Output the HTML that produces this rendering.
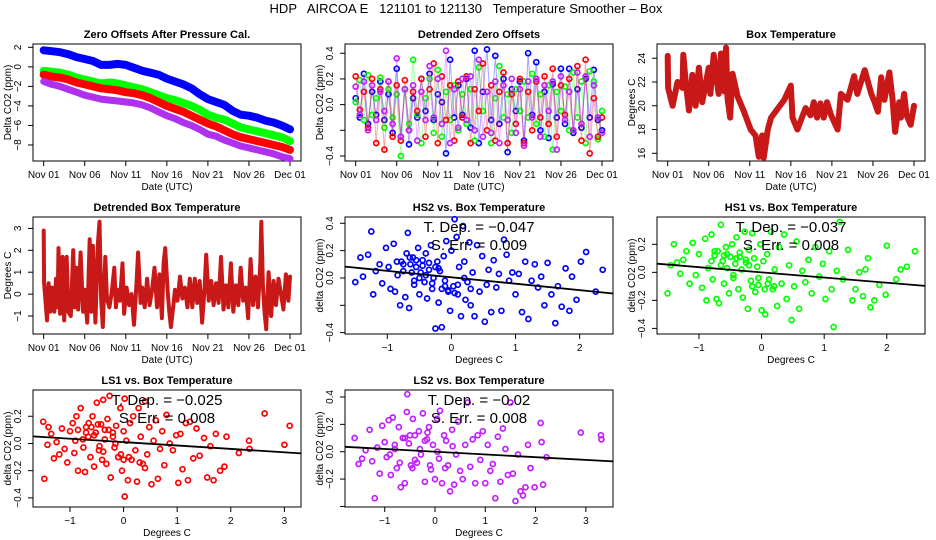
<!DOCTYPE html>
<html><head><meta charset="utf-8"><style>
html,body{margin:0;padding:0;background:#fff;}
svg{display:block;font-family:"Liberation Sans",sans-serif;}
</style></head><body>
<svg id="chart" xmlns="http://www.w3.org/2000/svg" width="936" height="540" viewBox="0 0 936 540">
<rect width="936" height="540" fill="#fff"/>
<text x="466" y="13" font-size="13" text-anchor="middle" xml:space="preserve">HDP   AIRCOA E   121101 to 121130   Temperature Smoother – Box</text>
</svg>
<script>
// ---------- data ----------
const dayTicks=[0,5,10,15,20,25,30];
const dayLabels=["Nov 01","Nov 06","Nov 11","Nov 16","Nov 21","Nov 26","Dec 01"];
const zeroDays=[0,1,2,3,4,5,6,7,8,9,10,11,12,13,14,15,16,17,18,19,20,21,22,23,24,25,26,27,28,29,30];
const zeroHS2=[1.7,1.6,1.5,1.3,1.0,0.8,0.6,0.2,0.2,0.3,0.2,-0.1,-0.4,-0.6,-0.8,-1.2,-1.5,-1.8,-2.2,-2.8,-3.3,-3.6,-3.9,-4.5,-4.9,-5.0,-5.2,-5.5,-5.7,-6.0,-6.4];
const zeroHS1=[-0.4,-0.5,-0.6,-0.8,-1.1,-1.3,-1.5,-1.7,-1.6,-1.7,-1.9,-2.1,-2.3,-2.6,-2.9,-3.2,-3.4,-3.7,-4.0,-4.4,-4.9,-5.2,-5.4,-5.8,-6.2,-6.4,-6.6,-6.8,-7.0,-7.2,-7.6];
const zeroLS1=[-0.8,-1.0,-1.1,-1.3,-1.6,-1.8,-2.0,-2.2,-2.3,-2.4,-2.6,-2.7,-2.9,-3.2,-3.6,-4.0,-4.3,-4.6,-5.0,-5.4,-5.8,-6.1,-6.5,-6.9,-7.2,-7.4,-7.6,-7.8,-8.0,-8.2,-8.5];
const zeroLS2=[-1.5,-1.8,-2.0,-2.3,-2.6,-2.9,-3.1,-3.3,-3.4,-3.5,-3.6,-3.7,-3.9,-4.2,-4.6,-5.0,-5.3,-5.7,-6.0,-6.4,-6.9,-7.1,-7.5,-7.8,-8.1,-8.3,-8.5,-8.7,-8.9,-9.2,-9.4];

const detDays=[0,0.5,1,1.5,2,2.5,3,3.5,4,4.5,5,5.5,6,6.5,7,7.5,8,8.5,9,9.5,10,10.5,11,11.5,12,12.5,13,13.5,14,14.5,15,15.5,16,16.5,17,17.5,18,18.5,19,19.5,20,20.5,21,21.5,22,22.5,23,23.5,24,24.5,25,25.5,26,26.5,27,27.5,28,28.5,29,29.5,30];
const detHS2=[0.05,-0.10,0.24,-0.15,0.10,-0.08,0.18,-0.12,0.08,-0.22,
0.28,-0.25,0.12,-0.31,0.05,-0.10,0.20,-0.05,0.24,-0.12,
0.08,0.02,-0.38,0.35,-0.10,0.15,-0.08,0.20,-0.18,0.42,
-0.30,0.10,0.43,-0.12,0.38,-0.15,0.20,-0.37,0.12,-0.05,
0.18,-0.28,0.40,-0.08,0.33,-0.20,0.10,-0.26,0.16,-0.10,
0.28,-0.15,0.28,-0.22,0.12,-0.18,0.20,-0.10,0.27,-0.12,-0.20];
const detHS1=[0.02,0.19,-0.12,0.23,-0.08,0.05,0.21,-0.18,0.12,-0.10,
0.08,-0.40,0.12,-0.15,0.35,-0.08,-0.30,0.05,0.20,-0.22,
0.27,-0.25,0.10,-0.12,0.15,-0.20,0.08,-0.15,0.12,-0.28,
0.29,-0.05,0.10,-0.30,0.05,0.30,-0.10,0.08,-0.22,0.12,
-0.05,0.18,-0.10,0.24,-0.15,0.08,-0.25,0.15,-0.35,0.10,
-0.05,0.14,-0.20,0.25,-0.10,0.18,-0.30,0.26,0.18,-0.27,-0.05];
const detLS1=[0.22,-0.04,0.10,-0.18,0.20,-0.30,0.12,-0.35,0.18,-0.25,
0.15,-0.28,0.19,-0.20,0.10,-0.05,0.20,-0.25,0.12,0.32,
-0.30,0.22,-0.12,0.15,-0.28,0.18,-0.10,0.22,-0.30,0.12,
-0.05,0.32,-0.20,0.15,-0.28,0.10,0.25,-0.30,0.08,-0.15,
0.20,-0.30,0.10,-0.20,0.18,-0.10,0.22,-0.15,0.28,-0.25,
0.15,-0.08,0.20,-0.20,0.30,-0.28,0.35,-0.38,0.05,-0.25,-0.10];
const detLS2=[0.14,-0.08,0.18,-0.20,0.15,-0.12,0.10,-0.05,0.18,-0.15,
0.36,-0.25,0.12,-0.20,0.15,-0.28,0.10,-0.12,0.30,-0.10,
0.20,-0.15,0.42,-0.30,0.12,-0.18,0.20,-0.12,0.22,-0.20,
0.35,-0.25,0.10,-0.22,0.18,-0.30,0.15,-0.12,0.20,-0.22,
0.12,-0.32,0.18,-0.10,0.20,-0.25,0.15,-0.05,0.18,-0.35,
0.22,-0.12,0.10,-0.20,0.25,-0.15,0.22,-0.25,0.15,-0.10,-0.22];

const boxDays=[0,0.05,0.6,1.2,1.8,1.9,2.2,2.6,3.0,3.4,3.8,4.2,5.0,5.2,5.6,6.2,6.5,6.9,7.1,7.3,7.6,7.9,8.5,9.3,10.1,10.7,11.1,11.5,11.7,12.2,12.6,14.2,15.0,15.2,15.8,16.8,17.4,17.8,18.2,18.6,19.0,19.4,19.9,20.7,21.1,21.9,22.7,23.1,24.0,24.8,25.2,25.6,26.0,26.4,27.0,27.4,27.7,28.2,28.4,28.8,29.1,29.6,30.0];
const boxTemp=[24.2,21.5,20.0,22.0,21.5,24.3,22.0,19.6,22.6,20.0,23.2,20.3,23.2,21.0,24.3,21.0,24.4,21.2,24.9,20.6,19.0,22.7,20.8,19.5,18.0,17.5,15.7,17.5,15.6,18.0,19.0,20.5,21.7,19.0,18.0,19.8,19.2,20.3,19.0,20.2,19.0,20.3,19.2,18.0,21.0,20.5,22.5,21.0,23.0,21.0,20.3,19.5,22.4,20.5,22.8,20.5,17.8,20.3,19.0,21.0,19.2,18.4,20.0];

const dbDays=[0,0.05,0.2,0.4,0.6,0.8,1.0,1.3,1.5,1.7,1.8,2.0,2.3,2.5,2.8,3.0,3.3,3.6,3.8,4.0,4.2,4.5,4.8,5.0,5.3,5.6,5.8,6.0,6.3,6.6,6.8,7.0,7.2,7.5,7.7,8.0,8.3,8.6,8.8,9.0,9.3,9.6,9.8,10.1,10.4,10.7,11.0,11.3,11.5,11.8,12.0,12.3,12.6,12.9,13.2,13.5,13.8,14.1,14.4,14.6,14.8,15.1,15.3,15.5,15.8,16.0,16.3,16.6,16.9,17.2,17.5,17.8,18.1,18.4,18.7,19.0,19.3,19.6,19.8,20.1,20.4,20.7,21.0,21.3,21.6,21.9,22.2,22.5,22.8,23.1,23.4,23.7,24.0,24.3,24.6,24.9,25.2,25.5,25.8,26.1,26.4,26.5,26.7,26.9,27.1,27.4,27.7,28.0,28.3,28.6,28.9,29.2,29.5,29.8,30.0];
const dbTemp=[2.9,0.5,-0.2,-1.2,0.5,-0.8,0.3,-0.8,0.7,-0.6,2.1,-0.9,1.7,-1.2,1.7,-0.8,-1.0,2.0,-0.6,1.2,-0.7,1.9,-0.8,0.2,-1.3,2.5,-0.8,2.2,-1.3,2.3,3.3,-0.2,-1.5,1.7,-0.2,-0.6,0.1,1.2,-0.6,0.2,-0.3,1.4,-0.9,0.3,-0.5,0.0,-1.4,0.5,1.9,-0.4,0.3,-0.6,0.7,-0.5,0.2,1.2,-0.6,0.9,-1.1,1.4,2.1,0.1,-0.8,-1.5,-0.5,0.2,-0.3,0.8,-0.2,0.3,-0.6,0.7,-0.6,0.7,-0.4,0.6,-1.3,0.3,1.8,-0.3,0.6,-0.5,0.5,-0.4,1.7,-0.7,0.4,-0.6,1.4,-0.8,0.4,-0.5,1.2,-0.3,0.3,-1.1,1.6,-0.5,0.8,-0.6,1.5,3.3,0.4,-0.8,-1.6,1.0,-1.0,0.6,-0.5,0.7,0.0,-0.7,0.9,-0.3,0.8];

const hs2X=[-1.50,-1.42,-1.38,-1.30,-1.25,-1.22,-1.18,-1.12,-1.08,-1.02,-0.98,-0.95,-0.90,-0.88,-0.84,-0.80,-0.78,-0.75,-0.72,-0.70,-0.68,-0.66,-0.64,-0.60,-0.58,-0.55,-0.52,-0.50,-0.48,-0.45,-0.42,-0.40,-0.38,-0.35,-0.32,-0.30,-0.28,-0.25,-0.22,-0.20,-0.18,-0.15,-0.12,-0.10,-0.08,-0.05,-0.02,0.00,0.03,0.05,0.08,0.10,0.12,0.15,0.18,0.20,0.22,0.25,0.28,0.30,0.33,0.36,0.40,0.44,0.48,0.52,0.55,0.58,0.62,0.66,0.70,0.74,0.78,0.82,0.86,0.90,0.95,1.00,1.05,1.10,1.15,1.20,1.25,1.30,1.35,1.40,1.45,1.50,1.56,1.62,1.66,1.72,1.78,1.84,1.88,1.95,2.02,2.10,2.25,2.36,-0.85,-0.75,-0.65,-0.55,-0.45,-0.35,-0.25,-0.15,-0.05,0.05,-0.62,-0.58,-0.50,-0.40,-0.30,-0.20,-0.10,0.10,0.20,0.30];
const hs2Y=[-0.03,0.15,0.01,0.17,0.34,-0.12,0.05,0.10,-0.04,0.22,0.08,-0.08,0.25,-0.10,0.02,-0.20,0.12,0.05,-0.14,0.18,0.33,-0.22,0.10,0.15,-0.05,0.08,0.22,-0.12,0.04,0.13,-0.03,0.18,-0.15,0.06,0.24,-0.08,0.00,-0.37,0.12,-0.18,0.05,-0.36,0.16,-0.02,0.27,-0.10,-0.24,0.20,-0.06,0.43,0.30,-0.12,0.08,-0.28,0.38,0.12,-0.16,-0.03,0.26,-0.20,0.04,-0.28,0.24,-0.10,0.16,-0.32,-0.05,0.06,-0.25,0.13,-0.07,0.03,-0.24,0.28,0.17,-0.02,0.04,-0.12,0.03,-0.25,0.12,-0.30,-0.02,0.10,-0.07,0.01,-0.20,0.11,-0.12,-0.33,-0.06,-0.21,0.07,-0.24,0.01,-0.16,0.12,0.19,-0.10,0.06,0.12,0.10,0.15,0.13,0.09,0.11,0.08,-0.08,-0.09,-0.11,0.04,-0.02,0.00,0.02,-0.04,0.07,-0.06,-0.05,0.00,-0.08];
const hs1X=[-1.50,-1.45,-1.40,-1.35,-1.30,-1.25,-1.20,-1.15,-1.10,-1.05,-1.00,-0.95,-0.90,-0.88,-0.85,-0.80,-0.78,-0.75,-0.72,-0.70,-0.68,-0.65,-0.62,-0.60,-0.57,-0.55,-0.52,-0.50,-0.47,-0.45,-0.42,-0.40,-0.37,-0.35,-0.32,-0.30,-0.27,-0.25,-0.22,-0.20,-0.17,-0.15,-0.12,-0.10,-0.07,-0.05,-0.02,0.00,0.03,0.06,0.09,0.12,0.15,0.18,0.21,0.25,0.28,0.32,0.36,0.40,0.44,0.48,0.52,0.56,0.60,0.65,0.70,0.75,0.80,0.86,0.92,0.98,1.02,1.08,1.12,1.15,1.20,1.25,1.30,1.38,1.45,1.50,1.56,1.62,1.66,1.70,1.74,1.80,1.88,1.98,2.00,2.15,2.22,2.32,2.45,-0.80,-0.60,-0.40,-0.20,0.10,-0.75,-0.65,-0.55,-0.45,-0.35,-0.25,-0.15,-0.05,0.05,0.20];
const hs1Y=[-0.15,0.05,0.20,0.07,-0.01,0.09,0.15,-0.08,0.21,-0.02,0.13,-0.11,0.24,-0.20,0.03,0.27,-0.05,0.12,-0.19,0.15,-0.22,0.34,0.08,-0.08,0.18,0.03,-0.15,0.11,0.20,-0.04,0.06,0.25,-0.12,0.14,0.02,-0.18,0.29,0.09,-0.26,0.16,-0.06,0.28,0.10,-0.14,0.04,-0.09,0.20,-0.27,0.08,-0.30,0.13,-0.05,0.29,-0.12,0.02,-0.24,0.18,-0.08,0.27,-0.19,0.05,-0.34,-0.10,0.22,-0.26,0.01,-0.07,0.09,-0.15,0.18,-0.03,0.06,-0.19,0.15,-0.12,-0.39,0.01,0.36,-0.05,0.16,-0.20,-0.12,0.00,-0.17,0.02,0.10,-0.25,-0.20,-0.09,-0.16,0.19,-0.05,0.02,0.04,0.15,0.08,0.12,0.10,0.05,-0.08,0.15,0.05,0.13,-0.02,0.11,0.07,-0.10,-0.04,-0.12,-0.10];
const ls1X=[-1.50,-1.48,-1.42,-1.40,-1.35,-1.30,-1.25,-1.20,-1.15,-1.10,-1.05,-1.00,-0.95,-0.92,-0.88,-0.85,-0.80,-0.76,-0.72,-0.70,-0.66,-0.62,-0.58,-0.55,-0.52,-0.50,-0.46,-0.42,-0.40,-0.38,-0.35,-0.32,-0.30,-0.26,-0.24,-0.20,-0.17,-0.14,-0.10,-0.06,-0.03,0.00,0.02,0.02,0.05,0.08,0.12,0.15,0.18,0.22,0.25,0.28,0.32,0.36,0.40,0.44,0.48,0.52,0.56,0.60,0.64,0.68,0.72,0.76,0.80,0.86,0.92,0.98,1.02,1.06,1.10,1.16,1.20,1.24,1.30,1.36,1.42,1.50,1.56,1.62,1.68,1.72,1.80,1.88,1.92,2.15,2.34,2.35,2.63,3.00,3.10,-0.90,-0.70,-0.60,-0.45,-0.35,-0.20,-0.05,0.10,0.30,-0.85,-0.75,-0.65,-0.55,-0.48,-0.38,-0.28,-0.15,0.00,0.40];
const ls1Y=[0.16,-0.26,-0.01,0.12,0.07,-0.11,0.01,-0.08,0.11,-0.04,-0.14,0.09,0.15,-0.07,0.20,-0.20,0.26,0.03,-0.21,0.12,0.05,-0.10,0.20,-0.17,0.08,0.30,-0.05,0.14,-0.12,0.32,0.03,-0.15,0.18,0.35,-0.25,0.08,-0.03,0.13,-0.10,0.26,-0.20,0.09,0.33,-0.39,0.02,-0.27,0.15,-0.12,0.20,-0.05,-0.28,0.26,0.05,-0.15,0.31,-0.08,0.12,-0.30,0.02,0.17,-0.26,-0.04,0.09,-0.16,0.21,0.00,-0.05,0.06,-0.29,0.07,-0.19,0.15,-0.27,0.16,-0.11,0.11,-0.09,0.04,-0.25,-0.02,-0.27,0.07,-0.20,-0.17,0.05,-0.07,0.02,-0.04,0.22,-0.01,0.13,0.02,0.08,0.12,-0.02,0.10,0.05,-0.08,-0.10,-0.14,0.10,-0.03,0.15,0.06,0.14,-0.06,0.10,0.00,-0.12,-0.18];
const ls2X=[-1.60,-1.52,-1.45,-1.38,-1.30,-1.25,-1.20,-1.15,-1.10,-1.05,-1.00,-0.96,-0.92,-0.88,-0.84,-0.80,-0.76,-0.72,-0.68,-0.64,-0.60,-0.56,-0.55,-0.52,-0.48,-0.44,-0.40,-0.36,-0.32,-0.28,-0.24,-0.20,-0.16,-0.12,-0.08,-0.04,0.00,0.04,0.08,0.10,0.14,0.18,0.22,0.26,0.30,0.34,0.38,0.42,0.46,0.50,0.55,0.60,0.65,0.70,0.75,0.80,0.85,0.90,0.95,1.00,1.05,1.10,1.15,1.20,1.25,1.30,1.35,1.40,1.45,1.50,1.55,1.60,1.65,1.70,1.75,1.80,1.85,1.90,1.98,2.10,2.12,2.15,2.22,2.90,3.30,3.31,-0.80,-0.60,-0.40,-0.20,-0.70,-0.50,-0.30,-0.10,0.05,0.20,0.35,-0.90,-0.45,-0.15];
const ls2Y=[0.10,-0.09,-0.05,0.01,0.16,-0.07,-0.34,0.03,-0.16,0.19,0.07,-0.04,0.23,-0.17,0.25,0.02,-0.12,0.18,-0.26,0.10,-0.23,0.29,0.42,0.06,-0.10,0.24,0.12,-0.08,0.15,-0.02,0.28,-0.22,0.09,0.18,-0.13,0.05,-0.20,0.24,-0.05,0.30,-0.23,0.12,0.08,-0.10,-0.29,0.16,-0.24,-0.02,0.22,-0.14,-0.20,0.05,0.36,-0.11,0.09,-0.23,0.12,-0.06,0.15,-0.23,0.05,-0.14,-0.09,-0.34,0.11,-0.22,0.17,0.02,-0.17,0.36,-0.16,-0.36,-0.02,-0.29,-0.32,-0.26,0.05,-0.12,-0.26,0.21,0.07,-0.24,-0.04,0.14,0.12,0.09,0.05,0.10,-0.06,0.08,-0.08,0.12,0.02,-0.10,0.00,-0.12,0.04,-0.02,-0.12,0.14];

const fitSlope=[-0.047,-0.037,-0.025,-0.02];
const fitIntercept=[0.005,0.0,0.01,0.0];
const fitSE=["0.009","0.008","0.008","0.008"];

// ---------- helpers ----------
const NS='http://www.w3.org/2000/svg';
const svg=document.getElementById('chart');
function el(tag,attrs,parent){const e=document.createElementNS(NS,tag);for(const k in attrs)e.setAttribute(k,attrs[k]);(parent||svg).appendChild(e);return e;}
function panel(col,row,xmin,xmax,ymin,ymax){
  const L=col*312+33,R=col*312+301,T=44+row*173,B=161+row*173;
  return {L,R,T,B,xs:v=>L+(v-xmin)/(xmax-xmin)*(R-L),ys:v=>B-(v-ymin)/(ymax-ymin)*(B-T)};
}
function axes(p,name,title,xt,xl,yt,yl,xlab,ylab){
  const g=el('g',{});
  
  
  const t=el('text',{x:(p.L+p.R)/2,y:p.T-6,'font-size':11,'font-weight':'bold','text-anchor':'middle'},g);
  
  
  t.textContent=title;
  const box=el('rect',{x:p.L,y:p.T,width:p.R-p.L,height:p.B-p.T,fill:'none',stroke:'#000','stroke-width':1},g);
  
  
  xt.forEach((v,i)=>{
    const x=p.xs(v);
    const tk=el('line',{x1:x,x2:x,y1:p.B,y2:p.B+5,stroke:'#000'},g);
    
    
    const lb=el('text',{x:x,y:p.B+17,'font-size':10,'text-anchor':'middle'},g);
    
    
    lb.textContent=xl[i];
  });
  yt.forEach((v,i)=>{
    const y=p.ys(v);
    const tk=el('line',{x1:p.L-5,x2:p.L,y1:y,y2:y,stroke:'#000'},g);
    
    
    if(yl[i]!==''){
      const lb=el('text',{x:p.L-12,y:y,'font-size':10,'text-anchor':'middle',transform:`rotate(-90 ${p.L-12} ${y})`},g);
      
      
      lb.textContent=yl[i];
    }
  });
  const xa=el('text',{x:(p.L+p.R)/2,y:p.B+29,'font-size':10,'text-anchor':'middle'},g);
  
  
  xa.textContent=xlab;
  const cy=(p.T+p.B)/2;
  const ya=el('text',{x:p.L-22,y:cy,'font-size':10,'text-anchor':'middle',transform:`rotate(-90 ${p.L-22} ${cy})`},g);
  
  
  ya.textContent=ylab;
  return g;
}
function band(p,xs,ys,stroke,w,name,op){
  const pts=xs.map((v,i)=>p.xs(v).toFixed(1)+','+p.ys(ys[i]).toFixed(1)).join(' ');
  const pl=el('polyline',{points:pts,fill:'none',stroke:stroke,'stroke-width':w,'stroke-linejoin':'round','stroke-linecap':'round','stroke-opacity':op||1});
  
  
}
function points(p,xs,ys,stroke,name,r){
  const g=el('g',{});
  
  
  xs.forEach((v,i)=>{
    const c=el('circle',{cx:p.xs(v).toFixed(1),cy:p.ys(ys[i]).toFixed(1),r:r||2.5,fill:'none',stroke:stroke,'stroke-width':1.7},g);
    
    
  });
}
function fit(p,k,xmin,xmax,name){
  const ln=el('line',{x1:p.xs(xmin),y1:p.ys(fitIntercept[k]+fitSlope[k]*xmin),x2:p.xs(xmax),y2:p.ys(fitIntercept[k]+fitSlope[k]*xmax),stroke:'#000','stroke-width':1.8});
  
  
  const cx=(p.L+p.R)/2;
  const t1=el('text',{x:cx,y:p.T+15,'font-size':15,'text-anchor':'middle','xml:space':'preserve'});
  
  
  t1.textContent='T. Dep. =  '+String(fitSlope[k]).replace('-','−');
  const t2=el('text',{x:cx,y:p.T+33,'font-size':15,'text-anchor':'middle','xml:space':'preserve'});
  
  
  t2.textContent='S. Err. =  '+fitSE[k];
}
const xD=[-1.3,31.34];
const BOXRED='#c81818';

// Panel 1
const p1=panel(0,0,xD[0],xD[1],-9.64,2.34);
axes(p1,'zero-offsets-panel','Zero Offsets After Pressure Cal.',dayTicks,dayLabels,[2,0,-2,-4,-6,-8],['2','0','−2','−4','−6','−8'],'Date (UTC)','Delta CO2 (ppm)');
band(p1,zeroDays,zeroHS2,'#0000ff',8,'series-hs2');
band(p1,zeroDays,zeroHS1,'#00ff00',8,'series-hs1');
band(p1,zeroDays,zeroLS1,'#ff0000',8,'series-ls1');
band(p1,zeroDays,zeroLS2,'#b030f0',7,'series-ls2');

// Panel 2
const p2=panel(1,0,xD[0],xD[1],-0.439,0.472);
axes(p2,'detrended-zero-offsets-panel','Detrended Zero Offsets',dayTicks,dayLabels,[0.4,0.2,0,-0.2,-0.4],['0.4','0.2','0.0','','−0.4'],'Date (UTC)','Delta CO2 (ppm)');
[[detHS2,'#0000ff','hs2'],[detHS1,'#00ff00','hs1'],[detLS1,'#ff0000','ls1'],[detLS2,'#c020ff','ls2']].forEach(s=>{
  band(p2,detDays,s[0],s[1],1,'detrended-line-'+s[2],0.35);
  points(p2,detDays,s[0],s[1],'detrended-points-'+s[2]);
});

// Panel 3
const p3=panel(2,0,xD[0],xD[1],15.35,25.2);
axes(p3,'box-temperature-panel','Box Temperature',dayTicks,dayLabels,[24,22,20,18,16],['24','22','20','18','16'],'Date (UTC)','Degrees C');
band(p3,boxDays,boxTemp,BOXRED,6,'box-temperature-series');

// Panel 4
const p4=panel(0,1,xD[0],xD[1],-1.82,3.52);
axes(p4,'detrended-box-temperature-panel','Detrended Box Temperature',dayTicks,dayLabels,[3,2,1,0,-1],['3','2','1','0','−1'],'Date (UTC)','Degrees C');
band(p4,dbDays,dbTemp,BOXRED,4,'detrended-box-temperature-series');

// Panel 5
const p5=panel(1,1,-1.66,2.52,-0.41,0.446);
axes(p5,'hs2-vs-temperature-panel','HS2 vs. Box Temperature',[-1,0,1,2],['−1','0','1','2'],[0.4,0.2,0,-0.2,-0.4],['0.4','0.2','0.0','','−0.4'],'Degrees C','delta CO2 (ppm)');
points(p5,hs2X,hs2Y,'#0000ff','hs2-points');
fit(p5,0,-1.66,2.52,'hs2-fit-line');

// Panel 6
const p6=panel(2,1,-1.67,2.61,-0.44,0.395);
axes(p6,'hs1-vs-temperature-panel','HS1 vs. Box Temperature',[-1,0,1,2],['−1','0','1','2'],[0.2,0,-0.2,-0.4],['0.2','0.0','−0.2','−0.4'],'Degrees C','delta CO2 (ppm)');
points(p6,hs1X,hs1Y,'#00ff00','hs1-points');
fit(p6,1,-1.67,2.61,'hs1-fit-line');

// Panel 7
const p7=panel(0,2,-1.69,3.31,-0.467,0.393);
axes(p7,'ls1-vs-temperature-panel','LS1 vs. Box Temperature',[-1,0,1,2,3],['−1','0','1','2','3'],[0.2,0,-0.2,-0.4],['0.2','0.0','−0.2','−0.4'],'Degrees C','delta CO2 (ppm)');
points(p7,ls1X,ls1Y,'#ff0000','ls1-points');
fit(p7,2,-1.69,3.31,'ls1-fit-line');

// Panel 8
const p8=panel(1,2,-1.79,3.54,-0.404,0.451);
axes(p8,'ls2-vs-temperature-panel','LS2 vs. Box Temperature',[-1,0,1,2,3],['−1','0','1','2','3'],[0.4,0.2,0,-0.2,-0.4],['0.4','0.2','0.0','−0.2',''],'Degrees C','delta CO2 (ppm)');
points(p8,ls2X,ls2Y,'#c020ff','ls2-points');
fit(p8,3,-1.79,3.54,'ls2-fit-line');
</script>
</body></html>
